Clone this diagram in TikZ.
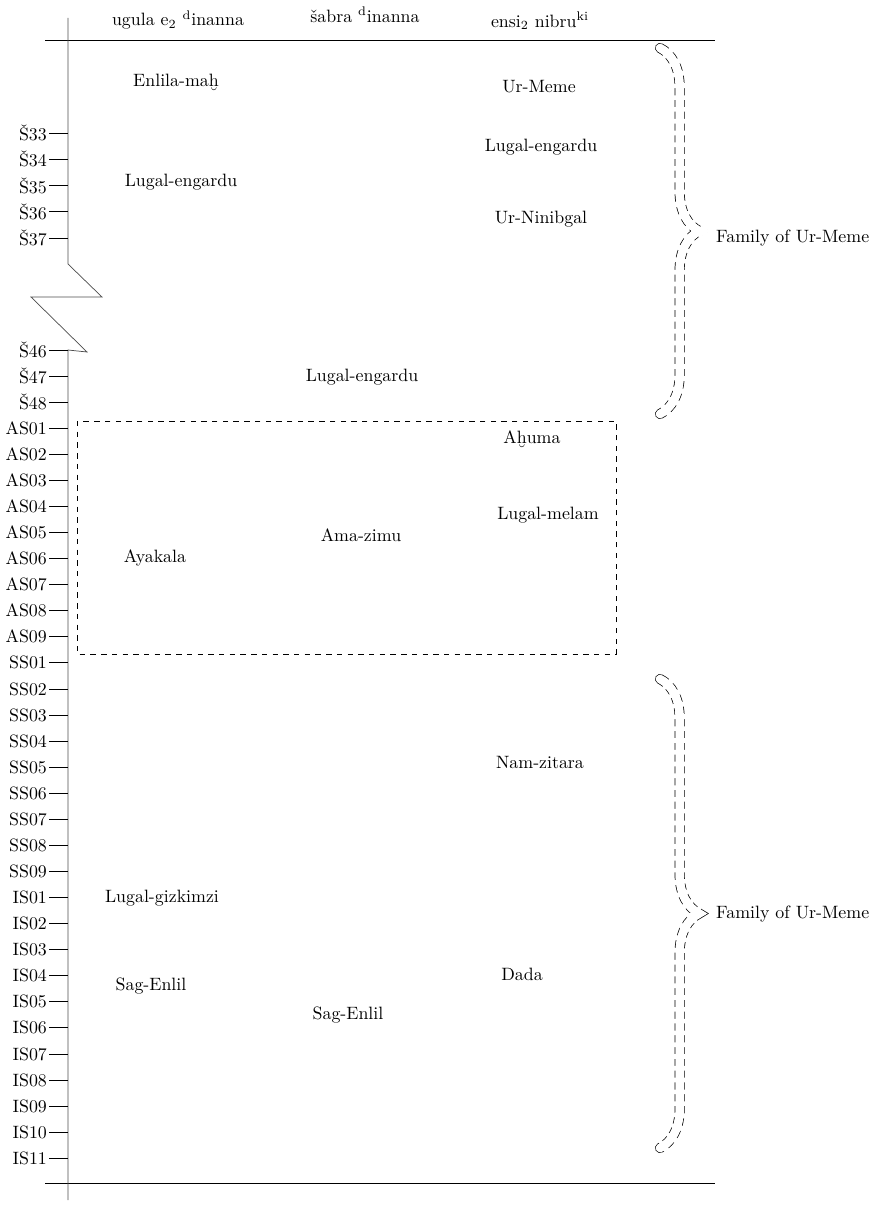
\documentclass[tikz,border=0pt]{standalone}
\usepackage{fontspec}
\usepackage{tikz}
\usetikzlibrary{decorations.pathreplacing}

\tikzset{
  tick/.style={black},
  ruler/.style={black!70},
  famline/.style={decorate,decoration={brace,amplitude=22pt},
    line width=5.6pt,line cap=round,
    postaction={draw=white,line width=4.8pt},
    postaction={draw=white,line width=6.5pt,line cap=butt,
      dash pattern=on 2.6pt off 4pt,dash phase=2.6pt}},
}

\begin{document}
\begin{tikzpicture}[x=0.56pt,y=-0.56pt,every node/.style={inner sep=1pt}]
\useasboundingbox (0,0) rectangle (881,1207);
% column heads
\node (ugula) at (178,20) {ugula e\textsubscript{2} \textsuperscript{d}inanna};
\node (sabra) at (365,15) {šabra \textsuperscript{d}inanna};
\node (ensi) at (540,21) {ensi\textsubscript{2} nibru\textsuperscript{ki}};
\draw (45,40) -- (715,40);
\draw (45,1183) -- (715,1183);
% time axis, broken between S37 and S46
\draw[ruler] (68,18) -- (68,264) -- (102,297) -- (31,297) -- (87,352) -- (68,350) -- (68,1200);
\foreach \lab [count=\i from 0] in {Š33,Š34,Š35,Š36,Š37}
  \draw[tick] (49,133+26.25*\i) -- (68,133+26.25*\i) node[pos=0,left] (a\i) {\lab};
\foreach \lab [count=\i from 0] in {Š46,Š47,Š48,AS01,AS02,AS03,AS04,AS05,AS06,AS07,AS08,AS09,SS01,SS02,SS03,SS04,SS05,SS06,SS07,SS08,SS09,IS01,IS02,IS03,IS04,IS05,IS06,IS07,IS08,IS09,IS10,IS11}
  \draw[tick] (49,350+26.07*\i) -- (68,350+26.07*\i) node[pos=0,left] (b\i) {\lab};
% office holders
\node (enlilamah) at (176,82) {Enlila-maḫ};
\node (urmeme) at (539,87) {Ur-Meme};
\node (lugalA) at (541,147) {Lugal-engardu};
\node (lugalB) at (181,182) {Lugal-engardu};
\node (urninibgal) at (541,219) {Ur-Ninibgal};
\node (lugalC) at (362,377) {Lugal-engardu};
\node (ahuma) at (532,439) {Aḫuma};
\node (lugalmelam) at (548,515) {Lugal-melam};
\node (amazimu) at (361,535) {Ama-zimu};
\node (ayakala) at (155,558) {Ayakala};
\node (namzitara) at (540,762) {Nam-zitara};
\node (gizkimzi) at (162,898) {Lugal-gizkimzi};
\node (dada) at (522,974) {Dada};
\node (sagA) at (151,986) {Sag-Enlil};
\node (sagB) at (348,1015) {Sag-Enlil};
% Amar-Suen years
\draw[dashed] (77,421) rectangle (616,654);
% families
\coordinate (famAtop) at (660,48);
\coordinate (famAbot) at (660,414);
\coordinate (famBtop) at (660,679);
\coordinate (famBbot) at (660,1148);
\draw[famline] (famAtop) -- (famAbot);
\draw[famline] (famBtop) -- (famBbot);
\node[right] (famA) at (714,238) {Family of Ur-Meme};
\node[right] (famB) at (714,914) {Family of Ur-Meme};
\end{tikzpicture}
\end{document}
